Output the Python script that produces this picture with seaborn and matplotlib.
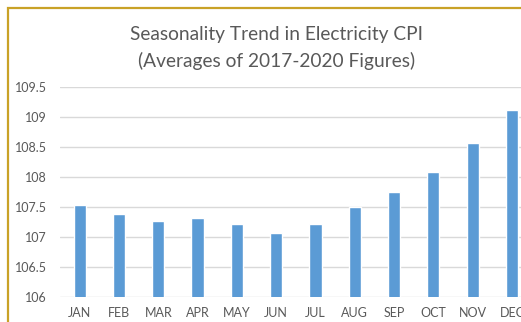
import matplotlib
matplotlib.use("Agg")
import matplotlib.pyplot as plt
import seaborn as sns
import pandas as pd
from matplotlib.patches import Rectangle

months = ["JAN", "FEB", "MAR", "APR", "MAY", "JUN", "JUL", "AUG", "SEP", "OCT", "NOV", "DEC"]
cpi = [107.53, 107.38, 107.26, 107.31, 107.22, 107.06, 107.21, 107.50, 107.74, 108.08, 108.57, 109.12]
yticks = [106, 106.5, 107, 107.5, 108, 108.5, 109, 109.5]
ytick_labels = ["106", "106.5", "107", "107.5", "108", "108.5", "109", "109.5"]
title = "Seasonality Trend in Electricity CPI\n(Averages of 2017-2020 Figures)"

sns.set_theme(style="white")
plt.rcParams['font.family'] = ['Lato', 'DejaVu Sans']

W, H = 521, 322
fig = plt.figure(figsize=(W / 100, H / 100), dpi=100)
fig.patch.set_facecolor("white")

# gold frame (extends beyond the right/bottom edges, as in the cropped reference)
fig.patches.append(Rectangle((8 / W, -0.1), 1.2, (H - 8) / H + 0.1, transform=fig.transFigure,
                             fill=False, edgecolor="#C9A227", linewidth=1.6, zorder=0))

ax = fig.add_axes([60 / W, 25.3 / H, 471.6 / W, (296.7 - 86.7) / H])
df = pd.DataFrame({"month": months, "cpi": cpi})
sns.barplot(data=df, x="month", y="cpi", color="#5B9BD5", saturation=1, width=0.31, ax=ax, zorder=3)

ax.set_ylim(106, 109.5)
ax.set_yticks(yticks)
ax.set_yticklabels(ytick_labels)
ax.set_xlim(-0.5, 11.5)
ax.set_xlabel("")
ax.set_ylabel("")
ax.grid(axis="y", color="#D9D9D9", linewidth=1.0, zorder=0)
ax.set_axisbelow(True)
for s in ax.spines.values():
    s.set_visible(False)
ax.tick_params(axis="both", length=0, labelsize=9, colors="#595959")
ax.tick_params(axis="y", pad=9.5)
ax.tick_params(axis="x", pad=7.5)

fig.text(277 / W, 1 - 48 / H, title, ha="center", va="center", fontsize=13.8,
         color="#595959", linespacing=1.65)

fig.savefig("out.png", dpi=100, facecolor="white")
